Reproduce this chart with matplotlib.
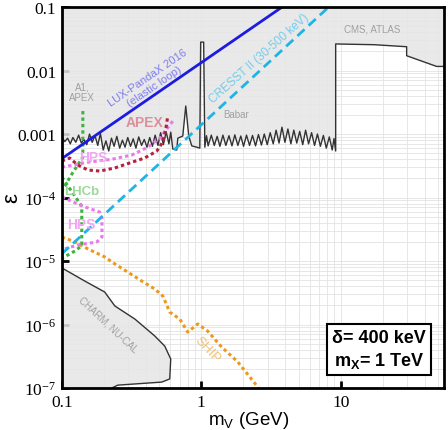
import matplotlib
matplotlib.use("Agg")
import matplotlib.pyplot as plt
import numpy as np

plt.rcParams["mathtext.fontset"] = "custom"
plt.rcParams["mathtext.rm"] = "Liberation Serif"
plt.rcParams["mathtext.sf"] = "Liberation Sans"

# ---- data (m in GeV, epsilon) ----
babar_m = [0.100, 0.105, 0.110, 0.115, 0.120, 0.126, 0.132, 0.138, 0.144, 0.151,
           0.158, 0.165, 0.173, 0.181, 0.189, 0.198, 0.207, 0.217, 0.227, 0.237,
           0.248, 0.260, 0.272, 0.284, 0.297, 0.311, 0.325, 0.340, 0.356, 0.373,
           0.390, 0.408, 0.427, 0.446, 0.467, 0.489, 0.511, 0.535, 0.560, 0.586,
           0.604, 0.625, 0.667, 0.679, 0.737, 0.774, 0.813, 0.855, 0.928, 0.976,
           0.990, 1.04, 1.06,
           1.09, 1.12, 1.18, 1.24, 1.30, 1.36, 1.43, 1.50, 1.58, 1.66,
           1.74, 1.83, 1.92, 2.01, 2.11, 2.22, 2.33, 2.45, 2.57, 2.70,
           2.83, 2.97, 3.12, 3.28, 3.44, 3.61, 3.79, 3.98, 4.18, 4.39,
           4.61, 4.84, 5.08, 5.34, 5.60, 5.88, 6.18, 6.49, 6.81, 7.15,
           7.51, 7.88, 8.28, 8.69, 8.95, 9.2]
babar_eps = [9.0e-4, 7.6e-4, 8.6e-4, 7.0e-4, 8.8e-4, 7.4e-4, 9.6e-4, 7.2e-4, 8.2e-4, 6.8e-4,
             1.0e-3, 7.4e-4, 9.4e-4, 6.6e-4, 1.02e-3, 5.6e-4, 7.8e-4, 5.4e-4, 8.6e-4, 6.4e-4,
             9.2e-4, 6.0e-4, 8.0e-4, 6.2e-4, 8.8e-4, 6.4e-4, 8.4e-4, 6.0e-4, 9.0e-4, 6.6e-4,
             8.2e-4, 6.2e-4, 8.8e-4, 6.4e-4, 9.6e-4, 6.6e-4, 1.05e-3, 6.8e-4, 1.08e-3, 7.0e-4,
             1.07e-3, 5.8e-4, 5.6e-4, 8.6e-4, 9.3e-4, 2.76e-3, 9.3e-4, 6.5e-4, 6.2e-4, 6.0e-4,
             2.8e-2, 2.8e-2, 6.2e-4,
             9.4e-4, 6.5e-4, 9.6e-4, 6.6e-4, 9.2e-4, 6.4e-4, 9.6e-4, 6.6e-4, 9.4e-4, 6.5e-4,
             9.7e-4, 6.6e-4, 9.3e-4, 6.4e-4, 9.6e-4, 6.6e-4, 9.5e-4, 6.5e-4, 9.8e-4, 6.7e-4,
             1.0e-3, 6.8e-4, 1.05e-3, 7.0e-4, 1.15e-3, 7.2e-4, 1.28e-3, 7.4e-4, 1.2e-3, 7.0e-4,
             1.15e-3, 7.2e-4, 1.1e-3, 6.8e-4, 1.15e-3, 7.0e-4, 1.05e-3, 6.6e-4, 1.0e-3, 6.4e-4,
             9.5e-4, 6.0e-4, 9.0e-4, 5.6e-4, 8.5e-4, 5.4e-4]

lhc_m = [9.2, 9.2, 17.3, 29.7, 29.7, 48.7, 55.0]
lhc_eps = [5.4e-4, 2.62e-2, 2.55e-2, 2.37e-2, 1.71e-2, 1.16e-2, 1.16e-2]

charm_m = [0.1, 0.146, 0.203, 0.240, 0.334, 0.464, 0.547, 0.604, 0.594, 0.521, 0.252, 0.228]
charm_eps = [7.8e-6, 4.84e-6, 3.25e-6, 1.96e-6, 1.22e-6, 6.6e-7, 4.58e-7, 2.86e-7,
             1.39e-7, 1.24e-7, 1.11e-7, 1.0e-7]

lux_m = [0.1, 3.8]
lux_eps = [4.1e-4, 0.1]

cresst_m = [0.1, 8.2]
cresst_eps = [1.3e-5, 0.1]

lhcb_a_m = [0.1415, 0.1415, 0.118, 0.1]
lhcb_a_eps = [2.3e-3, 4.35e-4, 2.34e-4, 1.26e-4]
lhcb_b_m = [0.1, 0.139, 0.139, 0.125, 0.1]
lhcb_b_eps = [2.1e-4, 7.3e-5, 1.75e-5, 1.45e-5, 1.1e-5]

hps_up_m = [0.1, 0.154, 0.228, 0.318, 0.413, 0.504, 0.625]
hps_up_eps = [3.0e-4, 3.6e-4, 4.0e-4, 4.67e-4, 6.2e-4, 8.6e-4, 1.6e-3]
hps_lo_m = [0.1, 0.1415, 0.187, 0.194, 0.194, 0.178, 0.130, 0.105, 0.1]
hps_lo_eps = [1.02e-4, 7.3e-5, 5.9e-5, 4.6e-5, 2.39e-5, 1.99e-5, 1.79e-5, 1.55e-5, 1.5e-5]

apex_m = [0.1, 0.114, 0.130, 0.154, 0.187, 0.240, 0.307, 0.393, 0.480, 0.530, 0.557, 0.575]
apex_eps = [3.76e-4, 4.19e-4, 3.25e-4, 2.71e-4, 2.61e-4, 2.92e-4, 3.5e-4, 4.19e-4,
            5.4e-4, 7.5e-4, 1.2e-3, 1.92e-3]

ship_m = [0.1, 0.124, 0.154, 0.203, 0.240, 0.297, 0.374, 0.464, 0.530, 0.594,
          0.701, 0.800, 0.944, 1.11, 1.40, 1.83, 2.54, 2.7]
ship_eps = [2.39e-5, 2.0e-5, 1.55e-5, 1.16e-5, 9.0e-6, 6.7e-6, 4.84e-6, 3.62e-6, 2.81e-6, 1.57e-6,
            1.22e-6, 7.6e-7, 1.02e-6, 7.9e-7, 4.42e-7, 2.57e-7, 1.04e-7, 8.0e-8]

ytick_vals = [1e-7, 1e-6, 1e-5, 1e-4, 1e-3, 1e-2, 1e-1]
ytick_text = ["$\\mathregular{10^{-7}}$", "$\\mathregular{10^{-6}}$", "$\\mathregular{10^{-5}}$",
              "$\\mathregular{10^{-4}}$", "0.001", "0.01", "0.1"]
xtick_vals = [0.1, 1, 10]
xtick_text = ["0.1", "1", "10"]

XMIN, XMAX = 0.1, 55.0
YMIN, YMAX = 1e-7, 0.1

fig = plt.figure(figsize=(4.48, 4.31), dpi=100)
ax = fig.add_axes([0.138, 0.0974, 0.853, 0.884])
ax.set_xscale("log")
ax.set_yscale("log")
ax.set_xlim(XMIN, XMAX)
ax.set_ylim(YMIN, YMAX)

ax.set_axisbelow(True)

shade = "#e6e6e6"
# excluded region above babar + LHC
ex_m = babar_m + lhc_m + [XMAX, XMIN]
ex_eps = babar_eps + lhc_eps + [YMAX, YMAX]
ax.fill(ex_m, ex_eps, color=shade, alpha=0.85, lw=0, zorder=1)
ax.plot(babar_m + lhc_m, babar_eps + lhc_eps, color="#333333", lw=1.0, zorder=3)

ax.fill(charm_m + [XMIN], charm_eps + [YMIN], color=shade, alpha=0.85, lw=0, zorder=1)
ax.plot(charm_m, charm_eps, color="#333333", lw=1.0, zorder=3)

dot = (0, (1.1, 1.0))
ax.plot(ship_m, ship_eps, color="#eb9a1c", lw=2.2, ls=dot, zorder=4)
ax.plot(lhcb_a_m, lhcb_a_eps, color="#3cb43c", lw=2.2, ls=dot, zorder=4)
ax.plot(lhcb_b_m, lhcb_b_eps, color="#3cb43c", lw=2.2, ls=dot, zorder=4)
ax.plot(hps_up_m, hps_up_eps, color="#e77be7", lw=2.2, ls=dot, zorder=4)
ax.plot(hps_lo_m, hps_lo_eps, color="#e77be7", lw=2.2, ls=dot, zorder=4)
ax.plot(apex_m, apex_eps, color="#b52040", lw=2.2, ls=dot, zorder=4)
ax.plot(lux_m, lux_eps, color="#1c1ce0", lw=2.0, zorder=5)
ax.plot(cresst_m, cresst_eps, color="#1fb4e6", lw=2.0, ls=(0, (3.5, 2.0)), zorder=5)

sans = "Liberation Sans"
ax.text(0.139, 4.6e-3, "A1,\nAPEX", color="#a0a0a0", fontsize=7, ha="center", va="center",
        family=sans, linespacing=1.1, zorder=6)
ax.text(0.435, 6.8e-3, "LUX-PandaX 2016\n(elastic loop)", color="#7d7df0", fontsize=8,
        ha="center", va="center", rotation=34.5, family=sans, linespacing=1.1, zorder=6)
ax.text(2.62, 1.57e-2, "CRESST II (30-500 keV)", color="#72cdee", fontsize=8.5,
        ha="center", va="center", rotation=41.5, family=sans, zorder=6)
ax.text(0.394, 1.55e-3, "APEX", color="#d98f9c", fontsize=10, fontweight="bold",
        ha="center", va="center", family=sans, zorder=6)
ax.text(0.167, 4.35e-4, "HPS", color="#f0a8f0", fontsize=10, fontweight="bold",
        ha="center", va="center", family=sans, zorder=6)
ax.text(0.137, 3.83e-5, "HPS", color="#f0a8f0", fontsize=10, fontweight="bold",
        ha="center", va="center", family=sans, zorder=6)
ax.text(0.139, 1.26e-4, "LHCb", color="#9ed89e", fontsize=9.5, fontweight="bold",
        ha="center", va="center", family=sans, zorder=6)
ax.text(1.79, 2.07e-3, "Babar", color="#a0a0a0", fontsize=7, ha="center", va="center",
        family=sans, zorder=6)
ax.text(16.7, 4.67e-2, "CMS, ATLAS", color="#a0a0a0", fontsize=7, ha="center", va="center",
        family=sans, zorder=6)
ax.text(0.214, 1.02e-6, "CHARM, NU-CAL", color="#a0a0a0", fontsize=7, ha="center",
        va="center", rotation=-43, family=sans, zorder=6)
ax.text(1.11, 4.1e-7, "SHIP", color="#f0bf72", fontsize=9.5, ha="center", va="center",
        rotation=-46, family=sans, zorder=6)

ax.text(0.83, 0.102, "δ= 400 keV\nm$_\\mathregular{X}$= 1 TeV", transform=ax.transAxes,
        fontsize=13, fontweight="bold", family=sans, ha="center", va="center",
        linespacing=1.25, zorder=7,
        bbox=dict(boxstyle="square,pad=0.3", facecolor="white", edgecolor="black", lw=1.5))

ax.set_xticks(xtick_vals)
ax.set_xticklabels(xtick_text)
ax.set_yticks(ytick_vals)
ax.set_yticklabels(ytick_text)
ax.xaxis.set_minor_locator(matplotlib.ticker.LogLocator(subs=np.arange(2, 10)))
ax.yaxis.set_minor_locator(matplotlib.ticker.LogLocator(subs=np.arange(2, 10)))
ax.xaxis.set_minor_formatter(matplotlib.ticker.NullFormatter())
ax.yaxis.set_minor_formatter(matplotlib.ticker.NullFormatter())
ax.grid(True, which="both", color="#e3e3e3", lw=0.6)
ax.tick_params(which="minor", length=0)
ax.tick_params(which="major", direction="in", length=5, width=2, labelsize=12.5, pad=4)
for lab in ax.get_xticklabels() + ax.get_yticklabels():
    lab.set_family("Liberation Serif")
for sp in ax.spines.values():
    sp.set_linewidth(2)
    sp.set_zorder(8)

ax.set_xlabel("m$_\\mathregular{V}$ (GeV)", fontsize=13.5, family=sans, va="center")
ax.xaxis.set_label_coords(0.49, -0.083)
ax.set_ylabel("ε", fontsize=16, family=sans, va="center")
ax.yaxis.set_label_coords(-0.132, 0.5)

fig.savefig("out.png", dpi=100)
